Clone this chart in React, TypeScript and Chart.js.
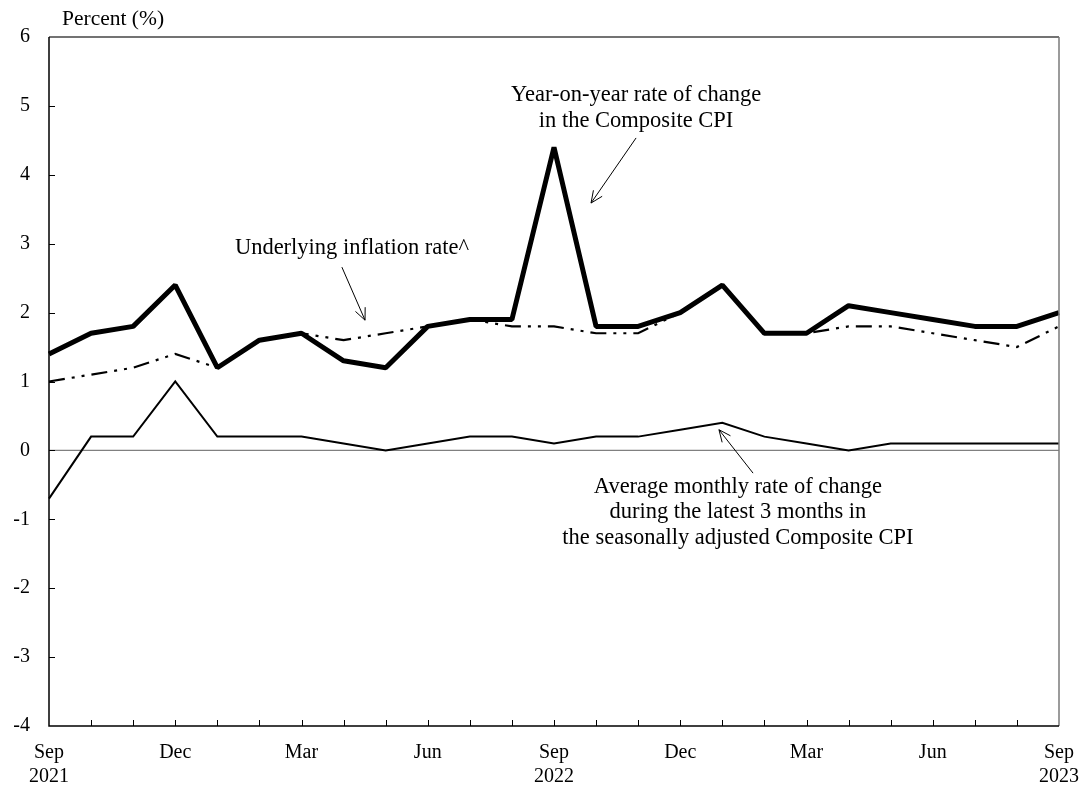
import React, { useEffect, useRef } from "react";
import { Chart, registerables } from "chart.js";

Chart.register(...registerables);

const months = [
  "Sep 2021", "Oct 2021", "Nov 2021", "Dec 2021", "Jan 2022", "Feb 2022", "Mar 2022",
  "Apr 2022", "May 2022", "Jun 2022", "Jul 2022", "Aug 2022", "Sep 2022", "Oct 2022",
  "Nov 2022", "Dec 2022", "Jan 2023", "Feb 2023", "Mar 2023", "Apr 2023", "May 2023",
  "Jun 2023", "Jul 2023", "Aug 2023", "Sep 2023",
];

const xTickLabels: (string | string[])[] = [
  ["Sep", "2021"], "", "", "Dec", "", "", "Mar", "", "", "Jun", "", "",
  ["Sep", "2022"], "", "", "Dec", "", "", "Mar", "", "", "Jun", "", "",
  ["Sep", "2023"],
];

const compositeYoY = [
  1.4, 1.7, 1.8, 2.4, 1.2, 1.6, 1.7, 1.3, 1.2, 1.8, 1.9, 1.9, 4.4,
  1.8, 1.8, 2.0, 2.4, 1.7, 1.7, 2.1, 2.0, 1.9, 1.8, 1.8, 2.0,
];

const underlying = [
  1.0, 1.1, 1.2, 1.4, 1.2, 1.6, 1.7, 1.6, 1.7, 1.8, 1.9, 1.8, 1.8,
  1.7, 1.7, 2.0, 2.4, 1.7, 1.7, 1.8, 1.8, 1.7, 1.6, 1.5, 1.8,
];

const avgMonthly3m = [
  -0.7, 0.2, 0.2, 1.0, 0.2, 0.2, 0.2, 0.1, 0.0, 0.1, 0.2, 0.2, 0.1,
  0.2, 0.2, 0.3, 0.4, 0.2, 0.1, 0.0, 0.1, 0.1, 0.1, 0.1, 0.1,
];

const yTitle = "Percent (%)";

// Annotation texts and arrows (positions in data coordinates: x = month index, y = percent)
const annotationTexts = [
  { x: 13.95, y: 5.16, text: "Year-on-year rate of change" },
  { x: 13.95, y: 4.78, text: "in the Composite CPI" },
  { x: 7.2, y: 2.94, text: "Underlying inflation rate^" },
  { x: 16.37, y: -0.53, text: "Average monthly rate of change" },
  { x: 16.37, y: -0.9, text: "during the latest 3 months in" },
  { x: 16.37, y: -1.27, text: "the seasonally adjusted Composite CPI" },
];

const annotationArrows = [
  { x1: 13.95, y1: 4.535, x2: 12.88, y2: 3.59 },
  { x1: 6.96, y1: 2.66, x2: 7.51, y2: 1.89 },
  { x1: 16.73, y1: -0.33, x2: 15.92, y2: 0.3 },
];

const FONT = '"Liberation Serif", "Times New Roman", serif';

const decorPlugin = {
  id: "decor",
  beforeDatasetsDraw(chart: any) {
    const { ctx, chartArea, scales } = chart;
    const y0 = scales.y.getPixelForValue(0);
    ctx.save();
    ctx.strokeStyle = "#808080";
    ctx.lineWidth = 1.2;
    ctx.beginPath();
    ctx.moveTo(chartArea.left, y0);
    ctx.lineTo(chartArea.right, y0);
    ctx.stroke();
    ctx.restore();
  },
  afterDatasetsDraw(chart: any) {
    const { ctx, chartArea, scales } = chart;
    const { left, right, top, bottom } = chartArea;
    ctx.save();
    // frame
    ctx.lineWidth = 1.5;
    ctx.strokeStyle = "#444";
    ctx.beginPath();
    ctx.moveTo(left, top);
    ctx.lineTo(right, top);
    ctx.stroke();
    ctx.strokeStyle = "#7a7a7a";
    ctx.beginPath();
    ctx.moveTo(right, top);
    ctx.lineTo(right, bottom);
    ctx.stroke();
    ctx.strokeStyle = "#000";
    ctx.beginPath();
    ctx.moveTo(left, top);
    ctx.lineTo(left, bottom);
    ctx.lineTo(right, bottom);
    ctx.stroke();
    // inner ticks
    ctx.lineWidth = 1;
    ctx.beginPath();
    for (let i = 1; i < months.length - 1; i++) {
      const px = Math.round(scales.x.getPixelForValue(i)) + 0.5;
      ctx.moveTo(px, bottom);
      ctx.lineTo(px, bottom - 6);
    }
    for (let v = -3; v <= 5; v++) {
      const py = Math.round(scales.y.getPixelForValue(v)) + 0.5;
      ctx.moveTo(left, py);
      ctx.lineTo(left + 6, py);
    }
    ctx.stroke();

    // y title
    ctx.fillStyle = "#000";
    ctx.font = `21.5px ${FONT}`;
    ctx.textAlign = "left";
    ctx.textBaseline = "middle";
    ctx.fillText(yTitle, left + 13, top - 18);

    // annotation texts
    ctx.font = `22.5px ${FONT}`;
    ctx.textAlign = "center";
    ctx.textBaseline = "middle";
    for (const a of annotationTexts) {
      ctx.fillText(a.text, scales.x.getPixelForValue(a.x), scales.y.getPixelForValue(a.y));
    }
    // arrows
    ctx.lineWidth = 1;
    ctx.strokeStyle = "#000";
    for (const a of annotationArrows) {
      const x1 = scales.x.getPixelForValue(a.x1);
      const y1 = scales.y.getPixelForValue(a.y1);
      const x2 = scales.x.getPixelForValue(a.x2);
      const y2 = scales.y.getPixelForValue(a.y2);
      const ang = Math.atan2(y2 - y1, x2 - x1);
      const hl = 13;
      const spread = 0.42;
      ctx.beginPath();
      ctx.moveTo(x1, y1);
      ctx.lineTo(x2, y2);
      ctx.moveTo(x2 - hl * Math.cos(ang - spread), y2 - hl * Math.sin(ang - spread));
      ctx.lineTo(x2, y2);
      ctx.lineTo(x2 - hl * Math.cos(ang + spread), y2 - hl * Math.sin(ang + spread));
      ctx.stroke();
    }
    ctx.restore();
  },
};

export default function App() {
  const canvasRef = useRef<HTMLCanvasElement | null>(null);

  useEffect(() => {
    if (!canvasRef.current) return;
    const chart = new Chart(canvasRef.current, {
      type: "line",
      data: {
        labels: months,
        datasets: [
          {
            label: "Year-on-year rate of change in the Composite CPI",
            data: compositeYoY,
            borderColor: "#000",
            borderWidth: 5,
            borderJoinStyle: "bevel",
            pointRadius: 0,
            tension: 0,
            order: 0,
          },
          {
            label: "Underlying inflation rate^",
            data: underlying,
            borderColor: "#000",
            borderWidth: 2.2,
            borderDash: [16, 7, 3, 7, 3, 7],
            pointRadius: 0,
            tension: 0,
            order: 1,
          },
          {
            label: "Average monthly rate of change during the latest 3 months in the seasonally adjusted Composite CPI",
            data: avgMonthly3m,
            borderColor: "#000",
            borderWidth: 2,
            pointRadius: 0,
            tension: 0,
            order: 2,
          },
        ],
      },
      options: {
        responsive: false,
        animation: false,
        devicePixelRatio: 1,
        layout: { padding: { top: 37, right: 27, left: 0, bottom: 0 } },
        plugins: {
          legend: { display: false },
          tooltip: { enabled: false },
        },
        scales: {
          x: {
            type: "category",
            offset: false,
            grid: { display: false, drawTicks: false },
            border: { display: false },
            ticks: {
              autoSkip: false,
              maxRotation: 0,
              padding: 15,
              color: "#000",
              font: { family: FONT, size: 20, lineHeight: 1.2 },
              callback: (_v: any, i: number) => xTickLabels[i],
            },
            afterFit: (scale: any) => {
              scale.height = 65;
              scale.paddingLeft = 0;
              scale.paddingRight = 0;
            },
          },
          y: {
            min: -4,
            max: 6,
            grid: { display: false, drawTicks: false },
            border: { display: false },
            ticks: {
              stepSize: 1,
              padding: 19,
              color: "#000",
              font: { family: FONT, size: 20 },
            },
            afterFit: (scale: any) => {
              scale.width = 49;
              scale.paddingTop = 0;
              scale.paddingBottom = 0;
            },
          },
        },
      },
      plugins: [decorPlugin],
    });
    return () => chart.destroy();
  }, []);

  return (
    <div style={{ position: "absolute", left: 0, top: 0, width: 1086, height: 791, background: "#fff" }}>
      <canvas ref={canvasRef} width={1086} height={791} style={{ display: "block" }} />
    </div>
  );
}
